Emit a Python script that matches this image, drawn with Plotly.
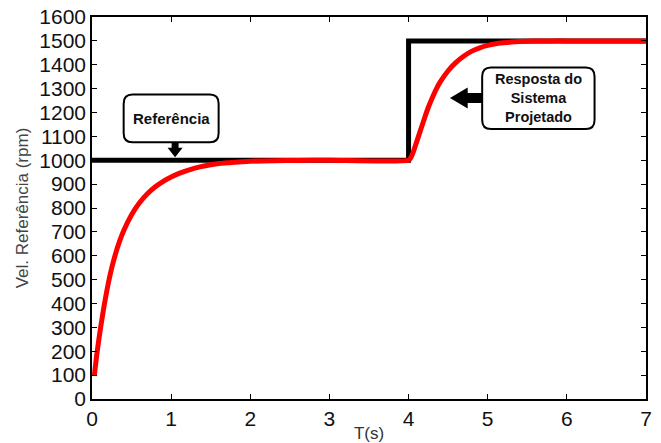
import plotly.graph_objects as go

# Data
ref_t = [0, 4, 4, 7]
ref_v = [1000, 1000, 1500, 1500]

resp_t = [0.03, 0.06, 0.1, 0.15, 0.2, 0.25, 0.3, 0.35, 0.4, 0.5, 0.6, 0.7, 0.8, 0.9,
          1.0, 1.1, 1.2, 1.3, 1.4, 1.6, 1.8, 2.0, 2.3, 2.6, 3.0, 4.0,
          4.03, 4.06, 4.1, 4.15, 4.2, 4.25, 4.3, 4.35, 4.4, 4.5, 4.6, 4.7, 4.8,
          4.9, 5.0, 5.1, 5.2, 5.3, 5.4, 5.6, 5.8, 6.0, 7.0]
resp_v = [100, 185, 280, 385, 475, 550, 611, 662, 705, 772, 822, 860, 889, 912,
          930, 945, 957, 967, 975, 986, 992, 996, 998, 999, 1000, 1000,
          1012, 1035, 1075, 1125, 1175, 1222, 1262, 1298, 1328, 1375, 1410, 1437, 1457,
          1471, 1481, 1488, 1492, 1495, 1497, 1499, 1500, 1500, 1500]

x_ticks = [0, 1, 2, 3, 4, 5, 6, 7]
y_ticks = list(range(0, 1700, 100))

fig = go.Figure()
fig.add_trace(go.Scatter(x=ref_t, y=ref_v, mode="lines",
                         line=dict(color="black", width=5), showlegend=False))
fig.add_trace(go.Scatter(x=resp_t, y=resp_v, mode="lines",
                         line=dict(color="#ff0000", width=5, shape="spline", smoothing=0.5),
                         showlegend=False))


def rounded_box(x0, x1, y0, y1, rx, ry):
    return (f"M {x0+rx},{y0} L {x1-rx},{y0} Q {x1},{y0} {x1},{y0+ry} "
            f"L {x1},{y1-ry} Q {x1},{y1} {x1-rx},{y1} L {x0+rx},{y1} "
            f"Q {x0},{y1} {x0},{y1-ry} L {x0},{y0+ry} Q {x0},{y0} {x0+rx},{y0} Z")


shapes = [
    dict(type="path", xref="x", yref="y",
         path=rounded_box(0.40, 1.60, 1075, 1275, 0.11, 38),
         line=dict(color="black", width=2), fillcolor="white"),
    dict(type="path", xref="x", yref="y",
         path=rounded_box(4.93, 6.35, 1131, 1389, 0.11, 38),
         line=dict(color="black", width=2), fillcolor="white"),
    # down arrow under "Referência"
    dict(type="path", xref="x", yref="y",
         path=("M 1.006,1075 L 1.094,1075 L 1.094,1052 L 1.145,1052 L 1.05,1013 "
               "L 0.955,1052 L 1.006,1052 Z"),
         line=dict(color="black", width=0), fillcolor="black"),
    # left arrow of "Resposta do Sistema Projetado"
    dict(type="path", xref="x", yref="y",
         path=("M 4.93,1282 L 4.747,1282 L 4.747,1305 L 4.523,1261 L 4.747,1217 "
               "L 4.747,1240 L 4.93,1240 Z"),
         line=dict(color="black", width=0), fillcolor="black"),
]

annotations = [
    dict(x=1.0, y=1175, xref="x", yref="y", text="<b>Referência</b>", showarrow=False,
         font=dict(family="Liberation Sans, Arial", size=15, color="#111")),
    dict(x=5.64, y=1260, xref="x", yref="y",
         text="<b>Resposta do<br>Sistema<br>Projetado</b>", showarrow=False,
         font=dict(family="Liberation Sans, Arial", size=14.5, color="#111")),
]

fig.update_layout(
    width=661, height=443,
    margin=dict(l=92, r=15, t=17, b=44),
    plot_bgcolor="white", paper_bgcolor="white",
    shapes=shapes, annotations=annotations,
    font=dict(family="Liberation Sans, Arial", color="#111"),
)
fig.update_xaxes(range=[0, 7], tickvals=x_ticks, ticks="inside", ticklen=5,
                 showgrid=False, zeroline=False, showline=True, linecolor="black",
                 linewidth=1.5, mirror="allticks", tickcolor="black", automargin=False,
                 tickfont=dict(size=21),
                 title=dict(text="T(s)", font=dict(size=17, color="#333"), standoff=1))
fig.update_yaxes(range=[0, 1600], tickvals=y_ticks, ticks="inside", ticklen=5,
                 showgrid=False, zeroline=False, showline=True, linecolor="black",
                 linewidth=1.5, mirror="allticks", tickcolor="black", automargin=False,
                 tickfont=dict(size=21),
                 title=dict(text="Vel. Referência (rpm)", font=dict(size=17, color="#444"), standoff=6))

fig.write_html("out.html", config={"displayModeBar": False},
               post_script="document.body.style.margin='0';")
